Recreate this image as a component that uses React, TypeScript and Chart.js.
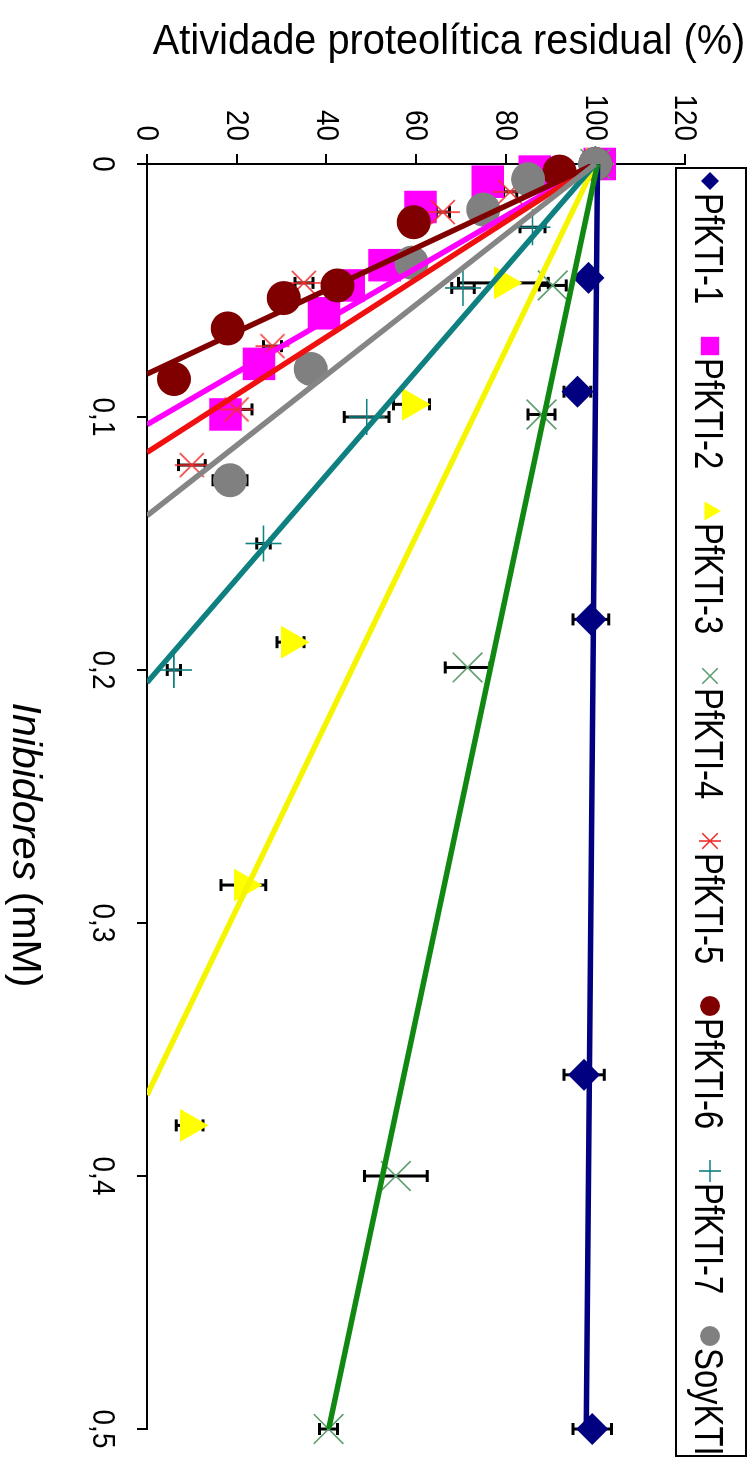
import React, { useEffect, useRef } from 'react';
import { Chart, registerables } from 'chart.js';

Chart.register(...registerables);

// ---------- data ----------
const seriesNames = ['PfKTI-1', 'PfKTI-2', 'PfKTI-3', 'PfKTI-4', 'PfKTI-5', 'PfKTI-6', 'PfKTI-7', 'SoyKTI'];
const concTickLabels = ['0', '0,1', '0,2', '0,3', '0,4', '0,5'];
const activityTickLabels = ['0', '20', '40', '60', '80', '100', '120'];
const xTitleItalic = 'Inibidores';
const xTitleRest = ' (mM)';
const yTitle = 'Atividade proteolítica residual (%)';

const pfkti1Conc = [0, 0.045, 0.09, 0.18, 0.36, 0.5];
const pfkti1Act = [100, 98.5, 96, 99, 97.5, 99.3];
const pfkti1Err = [0, 1, 3, 4, 4.5, 4.3];
const pfkti1Trend = [[0, 100.5], [0.5, 98]];

const pfkti2Conc = [0, 0.003, 0.007, 0.017, 0.04, 0.048, 0.059, 0.079, 0.099];
const pfkti2Act = [101, 86.5, 76, 61, 53, 45, 39.5, 25, 17.5];
const pfkti2Err = [0, 1, 1, 1.5, 1.5, 1.5, 1.5, 2, 2];
const pfkti2Trend = [[0, 100], [0.103, 0]];

const pfkti3Conc = [0, 0.047, 0.095, 0.189, 0.285, 0.38];
const pfkti3Act = [100, 79.5, 59, 32, 21.5, 9.5];
const pfkti3Err = [0, 10, 4, 3, 5, 3];
const pfkti3Trend = [[0, 100], [0.368, 0]];

const pfkti4Conc = [0, 0.048, 0.099, 0.199, 0.4, 0.5];
const pfkti4Act = [100, 90.5, 88, 71.5, 55.5, 40.5];
const pfkti4Err = [0, 3, 3, 5, 7, 2];
const pfkti4Trend = [[0, 100.5], [0.5, 40.5]];

const pfkti5Conc = [0, 0.011, 0.019, 0.047, 0.072, 0.097, 0.119];
const pfkti5Act = [100, 81, 66, 35, 28, 20, 10];
const pfkti5Err = [0, 1.5, 1.5, 2, 2, 3.4, 3];
const pfkti5Trend = [[0, 100], [0.114, 0]];

const pfkti6Conc = [0, 0.003, 0.023, 0.048, 0.053, 0.065, 0.085];
const pfkti6Act = [100, 92, 59.5, 42.5, 30.5, 18, 6];
const pfkti6Err = [0, 1, 1, 1, 1, 1, 1];
const pfkti6Trend = [[0, 100], [0.083, 0]];

const pfkti7Conc = [0, 0.025, 0.049, 0.1, 0.15, 0.2];
const pfkti7Act = [100, 86, 70.5, 49, 26, 6];
const pfkti7Err = [0, 2.8, 2.5, 5, 1.5, 1.5];
const pfkti7Trend = [[0, 100], [0.205, 0]];

const soyConc = [0, 0.006, 0.018, 0.039, 0.081, 0.125];
const soyAct = [100, 85, 75, 59, 36.5, 18.5];
const soyErr = [0, 1, 1.5, 2, 1.5, 3.8];
const soyTrend = [[0, 100], [0.139, 0]];

// ---------- styles ----------
const markerStyles = ['rectRot', 'rect', 'triangle', 'crossRot', 'asterisk', 'circle', 'cross', 'circle'];
const markerColors = ['#000080', '#FF00FF', '#FFFF00', '#5E9E6E', '#F03030', '#800000', '#0E8080', '#808080'];
const markerRadii = [16, 23, 19, 21, 17, 17, 18, 17];
const legendRadii = [9, 13, 11, 11, 11, 10, 11, 10];
const lineColors = ['#000080', '#FF00FF', '#F5F500', '#118811', '#F01010', '#800000', '#0F8080', '#858585'];

const FONT = '"Liberation Sans", Arial, sans-serif';
const W = 1467;
const H = 752;

const concs = [pfkti1Conc, pfkti2Conc, pfkti3Conc, pfkti4Conc, pfkti5Conc, pfkti6Conc, pfkti7Conc, soyConc];
const acts = [pfkti1Act, pfkti2Act, pfkti3Act, pfkti4Act, pfkti5Act, pfkti6Act, pfkti7Act, soyAct];
const errs = [pfkti1Err, pfkti2Err, pfkti3Err, pfkti4Err, pfkti5Err, pfkti6Err, pfkti7Err, soyErr];
const trends = [pfkti1Trend, pfkti2Trend, pfkti3Trend, pfkti4Trend, pfkti5Trend, pfkti6Trend, pfkti7Trend, soyTrend];

function drawMarker(ctx: CanvasRenderingContext2D, style: string, x: number, y: number, r: number, color: string) {
  ctx.save();
  ctx.fillStyle = color;
  ctx.strokeStyle = color;
  ctx.lineWidth = 1.6;
  ctx.beginPath();
  const d = r * Math.SQRT1_2;
  switch (style) {
    case 'circle':
      ctx.arc(x, y, r, 0, Math.PI * 2);
      ctx.fill();
      break;
    case 'rect':
      ctx.rect(x - d, y - d, 2 * d, 2 * d);
      ctx.fill();
      break;
    case 'rectRot':
      ctx.moveTo(x, y - r);
      ctx.lineTo(x + r, y);
      ctx.lineTo(x, y + r);
      ctx.lineTo(x - r, y);
      ctx.closePath();
      ctx.fill();
      break;
    case 'triangle': {
      const a = (2 * Math.PI) / 3;
      ctx.moveTo(x, y - r);
      ctx.lineTo(x + Math.sin(a) * r, y - Math.cos(a) * r);
      ctx.lineTo(x + Math.sin(2 * a) * r, y - Math.cos(2 * a) * r);
      ctx.closePath();
      ctx.fill();
      break;
    }
    case 'crossRot':
      ctx.moveTo(x - d, y - d); ctx.lineTo(x + d, y + d);
      ctx.moveTo(x - d, y + d); ctx.lineTo(x + d, y - d);
      ctx.stroke();
      break;
    case 'cross':
      ctx.moveTo(x - r, y); ctx.lineTo(x + r, y);
      ctx.moveTo(x, y - r); ctx.lineTo(x, y + r);
      ctx.stroke();
      break;
    case 'asterisk':
      ctx.moveTo(x - d, y - d); ctx.lineTo(x + d, y + d);
      ctx.moveTo(x - d, y + d); ctx.lineTo(x + d, y - d);
      ctx.moveTo(x, y - r); ctx.lineTo(x, y + r);
      ctx.stroke();
      break;
  }
  ctx.restore();
}

function makeAsterisk(r: number, color: string) {
  const c = document.createElement('canvas');
  const s = Math.ceil(r * 2 + 4);
  c.width = s;
  c.height = s;
  const ctx = c.getContext('2d')!;
  drawMarker(ctx, 'asterisk', s / 2, s / 2, r, color);
  return c;
}

// draw text horizontally condensed by factor sx, anchored at (x,y)
function condensedText(ctx: CanvasRenderingContext2D, text: string, x: number, y: number, sx: number, align: 'left' | 'center' | 'right') {
  const w = ctx.measureText(text).width * sx;
  let left = x;
  if (align === 'center') left = x - w / 2;
  if (align === 'right') left = x - w;
  ctx.save();
  ctx.translate(left, y);
  ctx.scale(sx, 1);
  ctx.textAlign = 'left';
  ctx.fillText(text, 0, 0);
  ctx.restore();
  return w;
}

const errorBarPlugin = {
  id: 'errorBars',
  beforeDatasetsDraw(chart: any) {
    const { ctx } = chart;
    const xs = chart.scales.x;
    const ys = chart.scales.y;
    ctx.save();
    ctx.strokeStyle = '#000';
    ctx.lineWidth = 3;
    concs.forEach((cs, i) => {
      cs.forEach((c, j) => {
        const e = errs[i][j];
        if (!e) return;
        const px = xs.getPixelForValue(c);
        const y1 = ys.getPixelForValue(acts[i][j] - e);
        const y2 = ys.getPixelForValue(acts[i][j] + e);
        ctx.beginPath();
        ctx.moveTo(px, y1); ctx.lineTo(px, y2);
        ctx.moveTo(px - 6, y1); ctx.lineTo(px + 6, y1);
        ctx.moveTo(px - 6, y2); ctx.lineTo(px + 6, y2);
        ctx.stroke();
      });
    });
    ctx.restore();
  },
};

const decorPlugin = {
  id: 'decor',
  afterDraw(chart: any) {
    const ctx: CanvasRenderingContext2D = chart.ctx;
    const xs = chart.scales.x;
    const ys = chart.scales.y;
    ctx.save();
    ctx.fillStyle = '#000';
    ctx.textBaseline = 'middle';
    ctx.font = `31px ${FONT}`;
    // value-axis tick labels
    ys.ticks.forEach((t: any, i: number) => {
      const py = ys.getPixelForValue(t.value);
      condensedText(ctx, activityTickLabels[i] ?? '', 141, py + 1, 0.9, 'right');
    });
    // concentration-axis tick labels
    ctx.textBaseline = 'alphabetic';
    xs.ticks.forEach((t: any, i: number) => {
      const px = xs.getPixelForValue(t.value);
      condensedText(ctx, concTickLabels[i] ?? '', px, 659, 0.9, 'center');
    });
    ctx.restore();

    // y axis title (appears horizontal after page rotation)
    ctx.save();
    ctx.fillStyle = '#000';
    ctx.font = `43px ${FONT}`;
    ctx.textBaseline = 'alphabetic';
    ctx.translate(54, 303);
    ctx.rotate(-Math.PI / 2);
    condensedText(ctx, yTitle, 0, 0, 0.925, 'center');
    ctx.restore();

    // x axis title
    ctx.save();
    ctx.fillStyle = '#000';
    ctx.textBaseline = 'alphabetic';
    ctx.font = `italic 41px ${FONT}`;
    const w1 = ctx.measureText(xTitleItalic).width;
    ctx.font = `41px ${FONT}`;
    const w2 = ctx.measureText(xTitleRest).width;
    const start = 845 - (w1 + w2) / 2;
    ctx.font = `italic 41px ${FONT}`;
    ctx.fillText(xTitleItalic, start, 739);
    ctx.font = `41px ${FONT}`;
    ctx.fillText(xTitleRest, start + w1, 739);
    ctx.restore();

    // legend
    ctx.save();
    ctx.fillStyle = '#fff';
    ctx.fillRect(168, 6, 1288, 70);
    ctx.strokeStyle = '#000';
    ctx.lineWidth = 2;
    ctx.strokeRect(168, 6, 1288, 70);
    ctx.font = `40px ${FONT}`;
    ctx.textBaseline = 'alphabetic';
    seriesNames.forEach((name, i) => {
      const mx = 181 + 165 * i;
      drawMarker(ctx, markerStyles[i], mx, 42, legendRadii[i], markerColors[i]);
      ctx.fillStyle = '#000';
      condensedText(ctx, name, mx + 12, 57, 0.82, 'left');
    });
    ctx.restore();
  },
};

export default function App() {
  const ref = useRef<HTMLCanvasElement>(null);

  useEffect(() => {
    const canvas = ref.current!;
    const asterisk = makeAsterisk(markerRadii[4], markerColors[4]);
    const datasets: any[] = [];
    seriesNames.forEach((name, i) => {
      const style = markerStyles[i];
      const isStroke = style === 'cross' || style === 'crossRot';
      datasets.push({
        type: 'scatter',
        label: name,
        data: concs[i].map((c, j) => ({ x: c, y: acts[i][j] })),
        pointStyle: style === 'asterisk' ? asterisk : style,
        pointRadius: markerRadii[i],
        pointHoverRadius: markerRadii[i],
        pointBackgroundColor: markerColors[i],
        pointBorderColor: markerColors[i],
        pointBorderWidth: isStroke ? 1.6 : 0,
        showLine: false,
        clip: false,
        order: 20 - i,
      });
    });
    seriesNames.forEach((name, i) => {
      datasets.push({
        type: 'line',
        label: name + ' (tendência)',
        data: trends[i].map(([x, y]) => ({ x, y })),
        borderColor: lineColors[i],
        borderWidth: 5.5,
        pointRadius: 0,
        fill: false,
        tension: 0,
        order: 10 - i,
      });
    });

    const chart = new Chart(canvas, {
      type: 'scatter',
      data: { datasets },
      options: {
        responsive: false,
        animation: false,
        devicePixelRatio: 1,
        events: [],
        layout: { padding: { top: 67, right: 38, bottom: 0, left: 0 } },
        plugins: { legend: { display: false }, tooltip: { enabled: false } },
        scales: {
          x: {
            type: 'linear',
            position: 'bottom',
            min: 0,
            max: 0.5,
            ticks: { stepSize: 0.1, autoSkip: false, maxRotation: 0, display: false },
            grid: { display: true, drawOnChartArea: false, drawTicks: true, tickLength: 10, color: '#000', lineWidth: 2 },
            border: { display: true, color: '#000', width: 2 },
            afterFit: (s: any) => { s.height = 147; },
          },
          y: {
            type: 'linear',
            position: 'left',
            min: 0,
            max: 120,
            ticks: { stepSize: 20, autoSkip: false, display: false },
            grid: { display: true, drawOnChartArea: false, drawTicks: true, tickLength: 10, color: '#000', lineWidth: 2 },
            border: { display: true, color: '#000', width: 2 },
            afterFit: (s: any) => { s.width = 164; },
          },
        },
      } as any,
      plugins: [errorBarPlugin, decorPlugin],
    });
    return () => chart.destroy();
  }, []);

  return (
    <div style={{ position: 'fixed', left: 0, top: 0, width: 752, height: 1467, background: '#fff', overflow: 'hidden' }}>
      <canvas
        ref={ref}
        width={W}
        height={H}
        style={{
          position: 'absolute',
          left: 0,
          top: 0,
          width: W,
          height: H,
          transformOrigin: '0 0',
          transform: 'translate(752px, 0px) rotate(90deg)',
        }}
      />
    </div>
  );
}
